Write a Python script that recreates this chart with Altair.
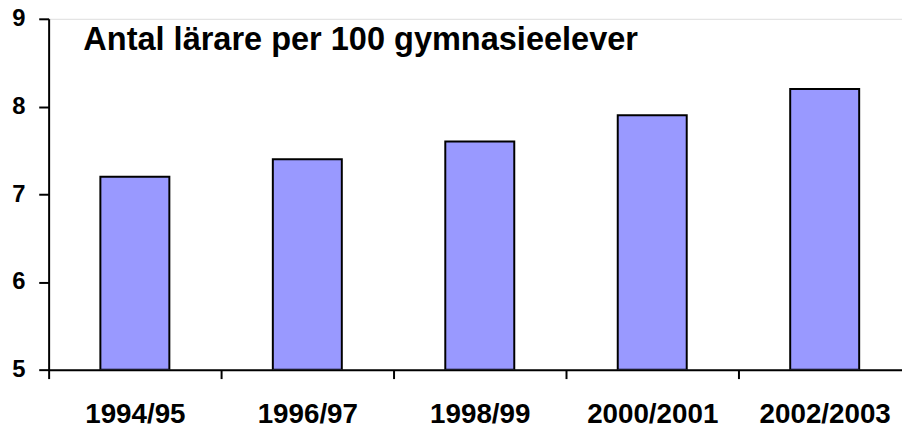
import altair as alt
import pandas as pd

years = ["1994/95", "1996/97", "1998/99", "2000/2001", "2002/2003"]
values = [7.2, 7.4, 7.6, 7.9, 8.2]
y_ticks = [5, 6, 7, 8, 9]
title_text = "Antal lärare per 100 gymnasieelever"

df = pd.DataFrame({"year": years, "value": values})

FONT = "Liberation Sans"
STEP = 174

bars = alt.Chart(df).mark_bar(
    color="#9999FF", stroke="black", strokeWidth=2, clip=True
).encode(
    x=alt.X(
        "year:N",
        sort=years,
        title=None,
        scale=alt.Scale(range=[0, 5 * STEP], paddingInner=0.6, paddingOuter=0.3),
        axis=alt.Axis(
            tickOffset=-STEP / 2,
            labelOffset=STEP / 2,
            labelAngle=0,
            labelFont=FONT,
            labelFontSize=28,
            labelFontWeight="bold",
            labelColor="black",
            labelPadding=22,
            tickSize=9,
            tickWidth=2,
            tickColor="black",
            domainColor="black",
            domainWidth=2,
            grid=False,
        ),
    ),
    y=alt.Y(
        "value:Q",
        title=None,
        scale=alt.Scale(domain=[5, 9], zero=False, nice=False),
        axis=alt.Axis(
            values=y_ticks,
            format="d",
            labelFont=FONT,
            labelFontSize=24,
            labelFontWeight="bold",
            labelColor="black",
            labelPadding=14,
            tickSize=10,
            tickWidth=2,
            tickColor="black",
            domainColor="black",
            domainWidth=2,
            grid=False,
        ),
    ),
    y2=alt.datum(5),
)

title_layer = alt.Chart(pd.DataFrame({"t": [title_text]})).mark_text(
    align="left",
    baseline="alphabetic",
    font=FONT,
    fontSize=32.8,
    fontWeight="bold",
    color="black",
).encode(
    text="t:N",
    x=alt.value(35),
    y=alt.value(31),
)

chart = alt.layer(bars, title_layer).properties(
    width=861,
    height=354,
    autosize=alt.AutoSizeParams(type="none"),
    padding={"left": 41, "top": 9, "right": 0, "bottom": 62},
).configure_view(stroke=None).configure(background="white")

chart.save("out.html", embed_options={"renderer": "svg", "actions": False})
